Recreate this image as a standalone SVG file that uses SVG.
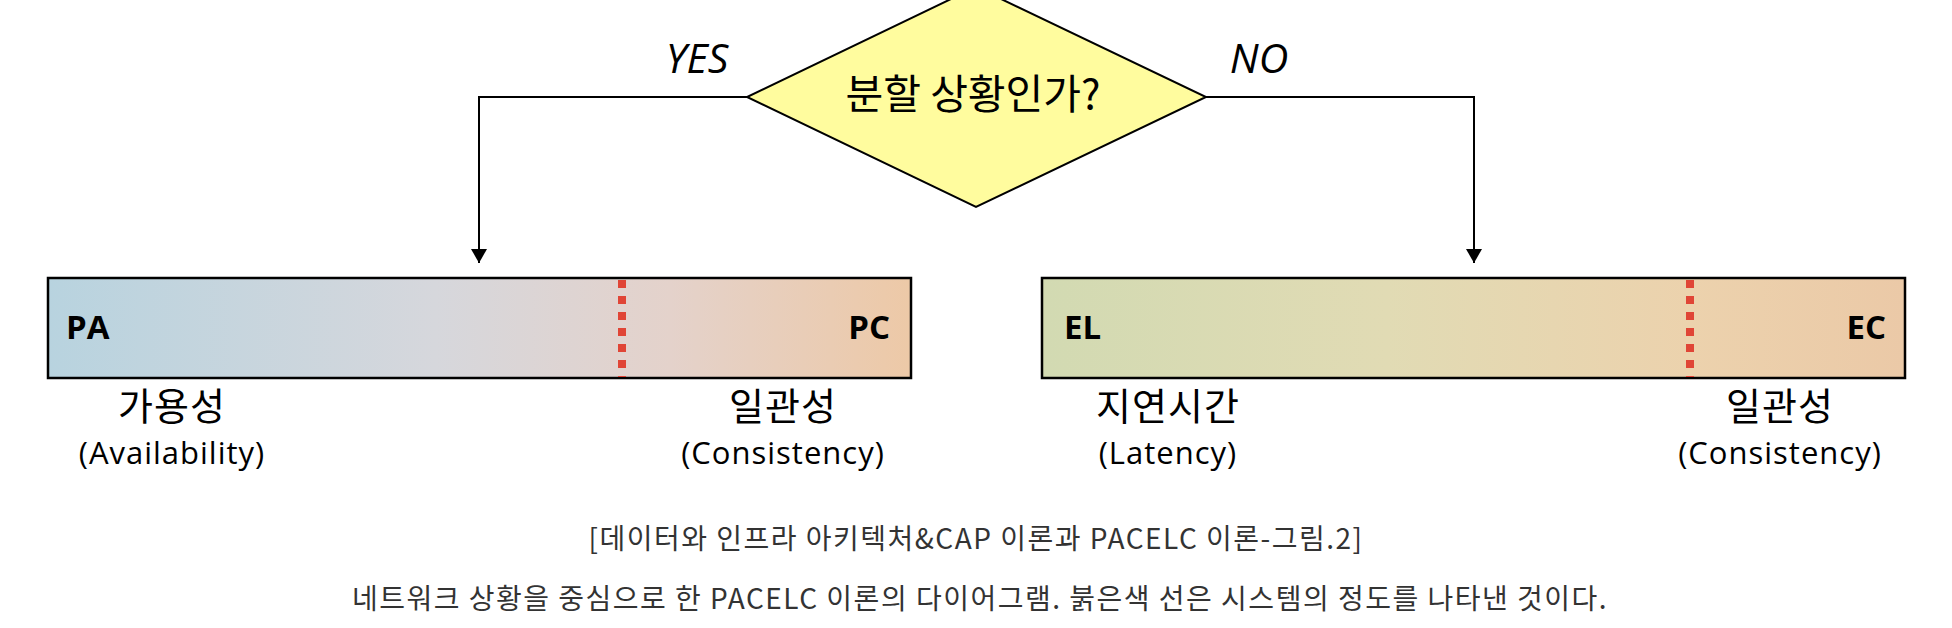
<svg xmlns="http://www.w3.org/2000/svg" width="1952" height="628" viewBox="0 0 1952 628">
<defs>
<linearGradient id="gradP" x1="0" y1="0" x2="1" y2="0">
<stop offset="0" stop-color="#b8d3df"/>
<stop offset="0.45" stop-color="#d6d7dc"/>
<stop offset="0.72" stop-color="#e4d2cb"/>
<stop offset="1" stop-color="#edc9a7"/>
</linearGradient>
<linearGradient id="gradE" x1="0" y1="0" x2="1" y2="0">
<stop offset="0" stop-color="#d2dab2"/>
<stop offset="0.4" stop-color="#e1dbb4"/>
<stop offset="0.75" stop-color="#ecd2ad"/>
<stop offset="1" stop-color="#ebc9a7"/>
</linearGradient>
<marker id="arrow" markerWidth="16" markerHeight="14" refX="8" refY="14" orient="0" markerUnits="userSpaceOnUse">
<path d="M0,0 L16,0 L8,14 Z" fill="#000"/>
</marker>
</defs>
<style>
.kr{font-family:"Noto Sans CJK KR","Open Sans",sans-serif;fill:#000}
.lat{font-family:"Open Sans","Noto Sans CJK KR",sans-serif;fill:#000}
.sub{font-size:31px;letter-spacing:1px}
.lbl{font-size:38px;letter-spacing:1px}
.end{font-family:"Open Sans","Noto Sans CJK KR",sans-serif;font-weight:bold;font-size:33px;fill:#000}
.bar{stroke:#000;stroke-width:2.5}
.red{stroke:#e04536;stroke-width:8;stroke-dasharray:8 8}
.conn{fill:none;stroke:#000;stroke-width:2}
.cap{font-family:"Noto Sans CJK KR",sans-serif;font-size:28px;letter-spacing:1.5px;fill:#333}
.mid{text-anchor:middle}
</style>
<rect width="1952" height="628" fill="#fff"/>
<g id="connectors">
<path class="conn" d="M747,97 H479 V263" marker-end="url(#arrow)"/>
<path class="conn" d="M1206,97 H1474 V263" marker-end="url(#arrow)"/>
<text class="lat" x="697" y="73" font-size="41" font-style="italic" text-anchor="middle">YES</text>
<text class="lat" x="1259" y="73" font-size="41" font-style="italic" text-anchor="middle">NO</text>
</g>
<g id="decision">
<polygon points="976,-13 1206,97 976,207 747,97" fill="#fffc9e" stroke="#000" stroke-width="2"/>
<text class="kr mid" x="973" y="109" font-size="41">분할 상황인가?</text>
</g>
<g id="pa-pc">
<rect class="bar" x="48" y="278" width="863" height="100" fill="url(#gradP)"/>
<line class="red" x1="622" y1="280" x2="622" y2="377"/>
<text class="end" x="66" y="339">PA</text>
<text class="end" x="890" y="339" text-anchor="end">PC</text>
<text class="kr mid lbl" x="172" y="420">가용성</text>
<text class="lat mid sub" x="172" y="464">(Availability)</text>
<text class="kr mid lbl" x="783" y="420">일관성</text>
<text class="lat mid sub" x="783" y="464">(Consistency)</text>
</g>
<g id="el-ec">
<rect class="bar" x="1042" y="278" width="863" height="100" fill="url(#gradE)"/>
<line class="red" x1="1690" y1="280" x2="1690" y2="377"/>
<text class="end" x="1064" y="339">EL</text>
<text class="end" x="1886" y="339" text-anchor="end">EC</text>
<text class="kr mid lbl" x="1168" y="420">지연시간</text>
<text class="lat mid sub" x="1168" y="464">(Latency)</text>
<text class="kr mid lbl" x="1780" y="420">일관성</text>
<text class="lat mid sub" x="1780" y="464">(Consistency)</text>
</g>
<g id="caption">
<text class="cap mid" x="976" y="549">[데이터와 인프라 아키텍처&amp;CAP 이론과 PACELC 이론-그림.2]</text>
<text class="cap mid" x="980" y="609">네트워크 상황을 중심으로 한 PACELC 이론의 다이어그램. 붉은색 선은 시스템의 정도를 나타낸 것이다.</text>
</g>
</svg>
